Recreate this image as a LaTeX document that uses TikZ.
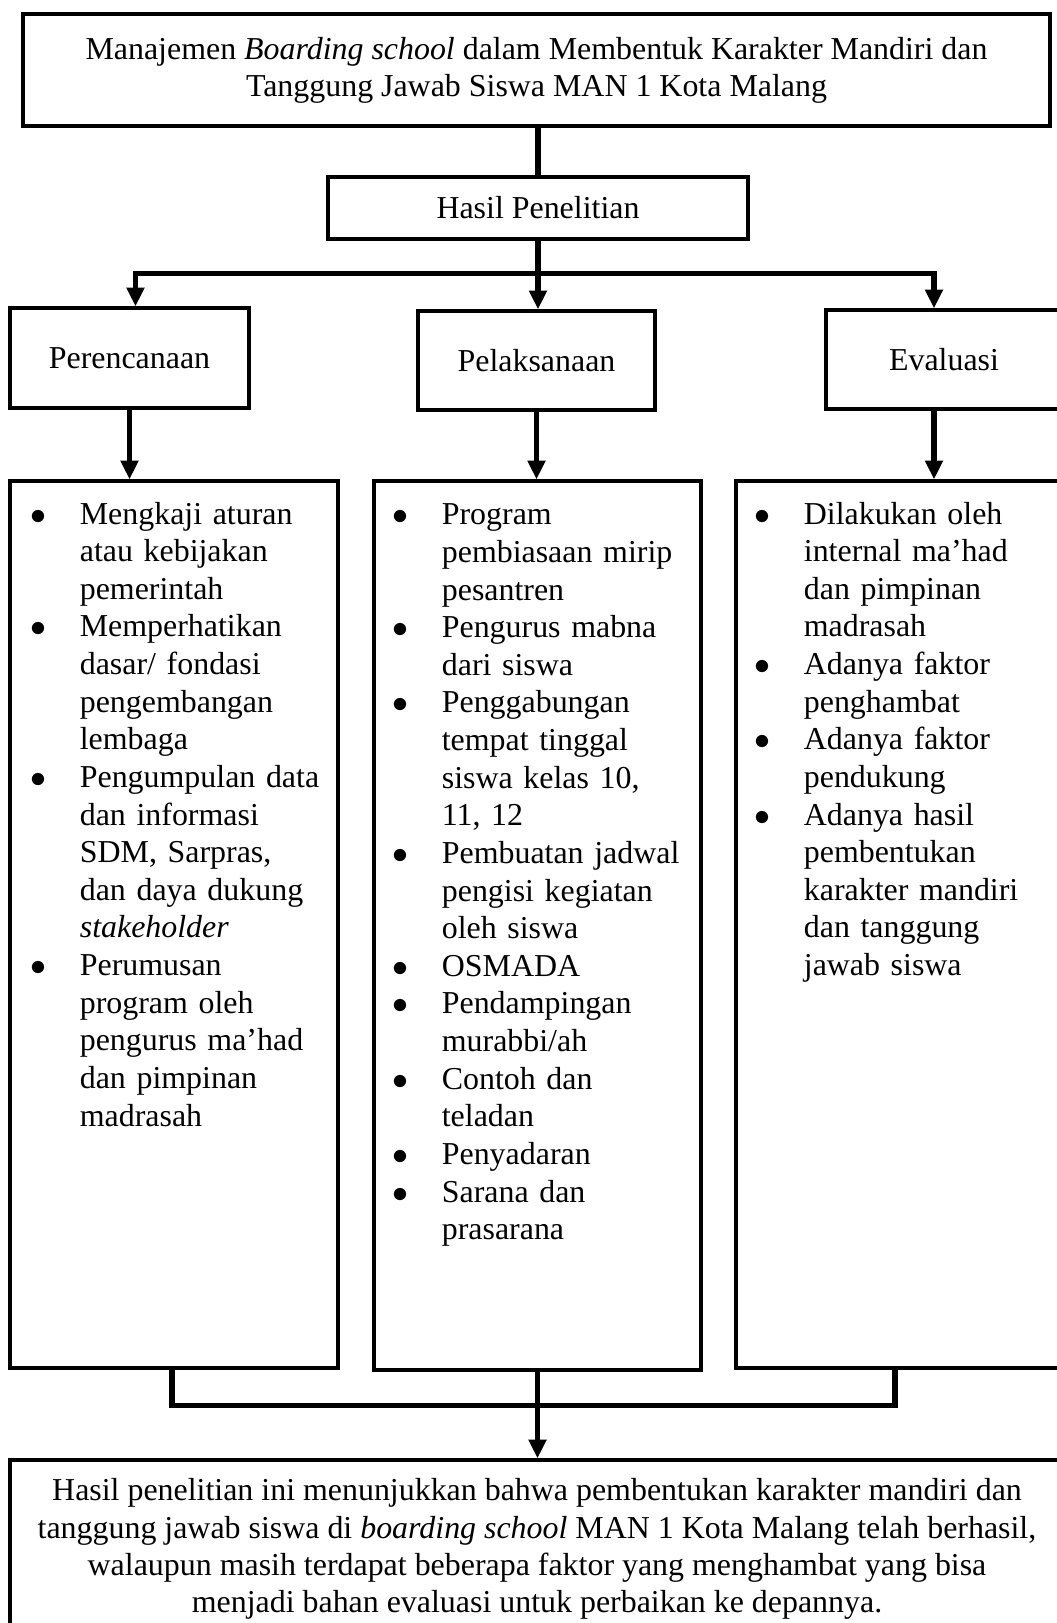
\documentclass[tikz,border=0pt]{standalone}
\usepackage{fontspec}
\setmainfont{Liberation Serif}
\usetikzlibrary{arrows.meta,fit}

\newcommand{\px}{0.376pt}
\newcommand{\butir}{\leavevmode\llap{{\fontsize{12}{12}\selectfont$\bullet$}\hspace{12.4pt}}}

\tikzset{
	kotak/.style={draw, line width=1.25pt, inner sep=0pt},
	teks/.style={font=\fontsize{12}{14}\selectfont, inner sep=0pt},
	daftar/.style={font=\fontsize{12}{14.15}\selectfont, inner sep=0pt, text width=98pt, align=left, anchor=north west},
	garis/.style={line width=2.2pt},
	panah/.style={garis, -{Triangle[length=7pt,width=6.4pt]}}
}

\begin{document}
\begin{tikzpicture}[x=0.376pt, y=-0.376pt]
	
	\useasboundingbox (0,0) rectangle (1057,1623);
	\clip (0,0) rectangle (1057,1623);
	
	\node[kotak, teks, align=center, minimum width=1027*\px, minimum height=112*\px] (judul) at (536.5,70) {Manajemen \textit{Boarding school} dalam Membentuk Karakter Mandiri dan\\Tanggung Jawab Siswa MAN 1 Kota Malang};
	\node[kotak, teks, minimum width=420*\px, minimum height=62*\px] (hasil) at (538,208) {Hasil Penelitian};
	
	\node[kotak, teks, minimum width=239*\px, minimum height=100*\px] (rencana) at (129.5,358) {Perencanaan};
	\node[kotak, teks, minimum width=237*\px, minimum height=99*\px] (laksana) at (536.5,360.5) {Pelaksanaan};
	\node[kotak, teks, minimum width=236*\px, minimum height=99*\px] (evaluasi) at (944,359.5) {Evaluasi};
	
	\node[kotak, fit={(10,481) (338,1368)}] (isiRencana) {};
	\node[kotak, fit={(374,481) (701,1370)}] (isiLaksana) {};
	\node[kotak, fit={(736,481) (1064,1368)}] (isiEvaluasi) {};
	
	\node[daftar] (teksRencana) at ([shift={(71,22)}]isiRencana.north west) {\butir Mengkaji aturan\\atau kebijakan\\pemerintah\\
		\butir Memperhatikan\\dasar/ fondasi\\pengembangan\\lembaga\\
		\butir Pengumpulan data\\dan informasi\\SDM, Sarpras,\\dan daya dukung\\\textit{stakeholder}\\
		\butir Perumusan\\program oleh\\pengurus ma’had\\dan pimpinan\\madrasah};
	\node[daftar] (teksLaksana) at ([shift={(69,24)}]isiLaksana.north west) {\butir Program\\pembiasaan mirip\\pesantren\\
		\butir Pengurus mabna\\dari siswa\\
		\butir Penggabungan\\tempat tinggal\\siswa kelas 10,\\11, 12\\
		\butir Pembuatan jadwal\\pengisi kegiatan\\oleh siswa\\
		\butir OSMADA\\
		\butir Pendampingan\\murabbi/ah\\
		\butir Contoh dan\\teladan\\
		\butir Penyadaran\\
		\butir Sarana dan\\prasarana};
	\node[daftar] (teksEvaluasi) at ([shift={(69,22)}]isiEvaluasi.north west) {\butir Dilakukan oleh\\internal ma’had\\dan pimpinan\\madrasah\\
		\butir Adanya faktor\\penghambat\\
		\butir Adanya faktor\\pendukung\\
		\butir Adanya hasil\\pembentukan\\karakter mandiri\\dan tanggung\\jawab siswa};
	
	\node[kotak, fit={(10,1460) (1064,1700)}] (simpul) {};
	\node[teks, align=center] (teksSimpul) at (537,1549) {Hasil penelitian ini menunjukkan bahwa pembentukan karakter mandiri dan\\tanggung jawab siswa di \textit{boarding school} MAN 1 Kota Malang telah berhasil,\\walaupun masih terdapat beberapa faktor yang menghambat yang bisa\\menjadi bahan evaluasi untuk perbaikan ke depannya.};
	
	\coordinate (cabangKiri) at (135.5,273.5);
	\coordinate (cabangKanan) at (934,273.5);
	\coordinate (gabungKiri) at (172,1405.5);
	\coordinate (gabungKanan) at (895,1405.5);
	
	\draw[garis] (judul.south -| hasil.north) -- (hasil.north);
	\draw[garis] (hasil.south) -- (hasil.south |- cabangKiri);
	\draw[panah] (cabangKanan) -- (cabangKiri) -- (cabangKiri |- rencana.north);
	\draw[panah] (cabangKiri) -- (cabangKanan) -- (cabangKanan |- evaluasi.north);
	\draw[panah] (hasil.south |- cabangKiri) -- (hasil.south |- laksana.north);
	
	\draw[panah] (rencana.south) -- (rencana.south |- isiRencana.north);
	\draw[panah] (laksana.south) -- (laksana.south |- isiLaksana.north);
	\draw[panah] (cabangKanan |- evaluasi.south) -- (cabangKanan |- isiEvaluasi.north);
	
	\draw[garis] (gabungKiri |- isiRencana.south) -- (gabungKiri) -- (gabungKanan) -- (gabungKanan |- isiEvaluasi.south);
	\draw[panah] (isiLaksana.south) -- (isiLaksana.south |- simpul.north);
	
\end{tikzpicture}
\end{document}
